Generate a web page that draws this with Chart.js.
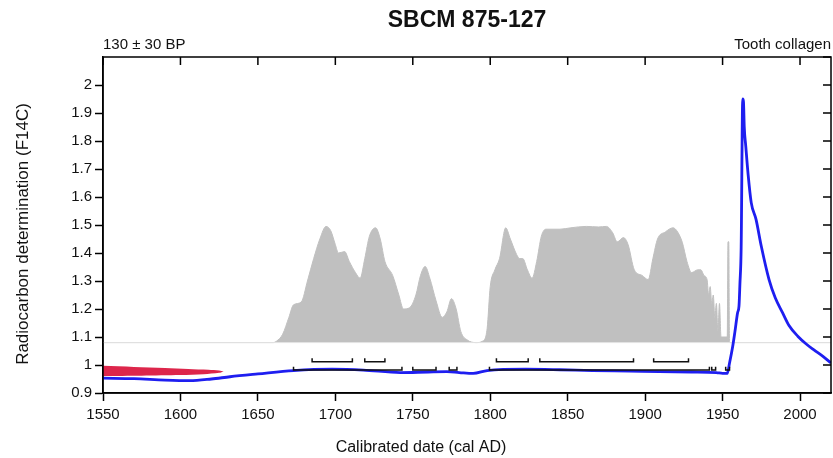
<!DOCTYPE html>
<html>
<head>
<meta charset="utf-8">
<script src="https://cdn.jsdelivr.net/npm/chart.js@4.4.0/dist/chart.umd.min.js"></script>
<style>
  html, body { margin: 0; padding: 0; background: #fff; }
  #wrap { width: 833px; height: 458px; }
</style>
</head>
<body>
<div id="wrap"><canvas id="oxcal-chart"></canvas></div>
<script>
// SBCM 875-127 calibration plot
const titleText = "SBCM 875-127";
const dateText = "130 ± 30 BP";
const materialText = "Tooth collagen";
const xTitle = "Calibrated date (cal AD)";
const yTitle = "Radiocarbon determination (F14C)";

const xTicks = [1550, 1600, 1650, 1700, 1750, 1800, 1850, 1900, 1950, 2000];
const yTicks = [0.9, 1, 1.1, 1.2, 1.3, 1.4, 1.5, 1.6, 1.7, 1.8, 1.9, 2, 2.1];

// calibration curve (F14C)
const calYears = [1550, 1570, 1590, 1606, 1620, 1632, 1650, 1673, 1698, 1718, 1742, 1760, 1772, 1780, 1789, 1798,
  1823, 1845, 1866, 1890, 1909, 1930, 1946, 1950, 1953, 1954.5, 1956.5, 1958, 1959.7, 1960.6, 1961.2, 1962, 1963,
  1963.5, 1964, 1965, 1966.5, 1968.5, 1971.6, 1975, 1980, 1984, 1988.7, 1993, 1998.7, 2004, 2009, 2015, 2020];
const calF14C = [0.953, 0.951, 0.946, 0.944, 0.950, 0.958, 0.968, 0.980, 0.985, 0.982, 0.973, 0.975, 0.976, 0.973, 0.970, 0.980,
  0.985, 0.983, 0.980, 0.978, 0.976, 0.975, 0.973, 0.970, 0.970, 1.007, 1.065, 1.12, 1.187, 1.21, 1.29, 1.42, 1.95,
  1.94, 1.85, 1.78, 1.68, 1.58, 1.52, 1.424, 1.305, 1.24, 1.187, 1.14, 1.102, 1.075, 1.054, 1.03, 1.007];

// calibrated probability (drawn above the 1.08 baseline)
const probYears = [1550, 1660, 1662, 1666, 1670, 1673, 1678, 1682, 1686, 1690, 1694, 1697, 1700, 1702, 1706, 1709, 1713,
  1716, 1719, 1722, 1726, 1729, 1732, 1737, 1741, 1744, 1748, 1752, 1755, 1758, 1761, 1765, 1769, 1772, 1775, 1778,
  1781, 1785, 1791, 1795, 1798, 1800, 1803, 1806, 1810, 1813, 1817, 1819, 1821, 1824, 1827, 1830, 1833, 1836, 1845,
  1852, 1862, 1870, 1875, 1879, 1882, 1886, 1889, 1893, 1898, 1902, 1905, 1908, 1913, 1918, 1921, 1924, 1927, 1930,
  1934, 1936, 1938, 1940, 1941, 1942, 1943, 1944, 1945, 1946, 1947, 1948, 1949, 1953, 1953.5, 1954, 1954.5, 2020];
const probF14C = [1.08, 1.08, 1.085, 1.11, 1.17, 1.215, 1.225, 1.30, 1.38, 1.45, 1.495, 1.48, 1.43, 1.40, 1.405, 1.37, 1.33,
  1.31, 1.38, 1.46, 1.49, 1.45, 1.37, 1.32, 1.25, 1.20, 1.205, 1.25, 1.32, 1.352, 1.31, 1.23, 1.17, 1.19, 1.237, 1.20,
  1.12, 1.09, 1.08, 1.085, 1.13, 1.28, 1.34, 1.38, 1.49, 1.45, 1.395, 1.38, 1.38, 1.34, 1.31, 1.37, 1.46, 1.485, 1.485,
  1.49, 1.495, 1.493, 1.495, 1.473, 1.44, 1.455, 1.43, 1.34, 1.32, 1.305, 1.38, 1.45, 1.475, 1.49, 1.475, 1.438, 1.37, 1.33,
  1.34, 1.34, 1.32, 1.305, 1.25, 1.28, 1.22, 1.25, 1.17, 1.22, 1.12, 1.22, 1.10, 1.10, 1.44, 1.44, 1.08, 1.08];

// measured F14C distribution (red, on the y axis)
const redUpperYears = [1550, 1570, 1590, 1605, 1618, 1625, 1628];
const redUpperF14C = [0.997, 0.993, 0.989, 0.986, 0.983, 0.980, 0.977];
const redLowerYears = [1550, 1575, 1600, 1615, 1625, 1628];
const redLowerF14C = [0.961, 0.962, 0.964, 0.967, 0.972, 0.977];

// ranges (cal AD)
const range68 = [[1685, 1711], [1719, 1732], [1804, 1824.5], [1832, 1892.5], [1905.5, 1928]];
const range95 = [[1673, 1743], [1750, 1765], [1773.5, 1778.5], [1799.5, 1941.5], [1943, 1945.5], [1952, 1954.5]];

const FONT = '"Liberation Sans", Arial, sans-serif';

function zip(xs, ys) {
  return xs.map((x, i) => ({ x: x, y: ys[i] }));
}

function brackets(ranges, level, cap) {
  const pts = [];
  ranges.forEach(r => {
    pts.push({ x: r[0], y: level + cap }, { x: r[0], y: level }, { x: r[1], y: level }, { x: r[1], y: level + cap });
    pts.push({ x: r[1], y: null });
  });
  return pts;
}

const frame = {
  id: "frame",
  afterDraw(chart) {
    const { ctx, chartArea: a, scales: { x, y } } = chart;
    ctx.save();
    ctx.strokeStyle = "#000";
    ctx.lineWidth = 1.5;
    ctx.strokeRect(a.left, a.top, a.right - a.left, a.bottom - a.top);
    ctx.beginPath();
    xTicks.forEach(v => {
      const px = x.getPixelForValue(v);
      ctx.moveTo(px, a.top);
      ctx.lineTo(px, a.top + 8);
    });
    yTicks.forEach(v => {
      const py = y.getPixelForValue(v);
      ctx.moveTo(a.right, py);
      ctx.lineTo(a.right - 8, py);
    });
    ctx.stroke();

    ctx.fillStyle = "#111";
    ctx.textBaseline = "alphabetic";
    ctx.font = "bold 23px " + FONT;
    ctx.textAlign = "center";
    ctx.fillText(titleText, (a.left + a.right) / 2, 27);
    ctx.font = "15px " + FONT;
    ctx.textAlign = "left";
    ctx.fillText(dateText, a.left, 49);
    ctx.textAlign = "right";
    ctx.fillText(materialText, a.right, 49);
    ctx.font = "16px " + FONT;
    ctx.textAlign = "center";
    ctx.fillText(xTitle, 421, 452);
    ctx.font = "17px " + FONT;
    ctx.translate(28, 234);
    ctx.rotate(-Math.PI / 2);
    ctx.fillText(yTitle, 0, 0);
    ctx.restore();
  }
};

const axisCommon = {
  type: "linear",
  border: { color: "#000", width: 1.5 },
  grid: { drawOnChartArea: false, tickLength: 8, tickColor: "#000", tickWidth: 1.5 }
};

new Chart(document.getElementById("oxcal-chart").getContext("2d"), {
  type: "scatter",
  data: {
    datasets: [
      {
        data: brackets(range68, 1.012, 0.012),
        showLine: true, spanGaps: false, borderColor: "#111", borderWidth: 1.5, pointRadius: 0, order: 0
      },
      {
        data: brackets(range95, 0.982, 0.012),
        showLine: true, spanGaps: false, borderColor: "#111", borderWidth: 1.5, pointRadius: 0, order: 0
      },
      {
        data: zip(calYears, calF14C),
        showLine: true, borderColor: "rgb(30,30,240)", borderWidth: 2.8, pointRadius: 0,
        cubicInterpolationMode: "monotone", order: 1
      },
      {
        data: zip(redUpperYears, redUpperF14C),
        showLine: true, borderColor: "rgba(0,0,0,0)", borderWidth: 0, pointRadius: 0, tension: 0.3, order: 2
      },
      {
        data: zip(redLowerYears, redLowerF14C),
        showLine: true, borderColor: "rgba(0,0,0,0)", borderWidth: 0, pointRadius: 0, tension: 0.3,
        fill: "-1", backgroundColor: "rgba(218,20,60,0.92)", order: 2
      },
      {
        data: zip([1550, 2020], [1.08, 1.08]),
        showLine: true, borderColor: "#e4e4e4", borderWidth: 1, pointRadius: 0, order: 3
      },
      {
        data: zip(probYears, probF14C),
        showLine: true, borderColor: "rgb(192,192,192)", borderWidth: 1, pointRadius: 0,
        cubicInterpolationMode: "monotone", fill: { value: 1.08 }, backgroundColor: "rgb(192,192,192)", order: 4
      }
    ]
  },
  options: {
    responsive: true,
    maintainAspectRatio: false,
    animation: false,
    layout: { padding: { top: 57, right: 2, left: 0, bottom: 0 } },
    plugins: { legend: { display: false }, tooltip: { enabled: false } },
    scales: {
      x: Object.assign({}, axisCommon, {
        min: 1550, max: 2020,
        afterBuildTicks: s => { s.ticks = xTicks.map(v => ({ value: v })); },
        afterFit: s => { s.height = 65; },
        ticks: { color: "#111", font: { family: FONT, size: 15 }, padding: 5, maxRotation: 0, autoSkip: false,
          callback: v => String(v) }
      }),
      y: Object.assign({}, axisCommon, {
        min: 0.9, max: 2.1,
        afterBuildTicks: s => { s.ticks = yTicks.map(v => ({ value: v })); },
        afterFit: s => { s.width = 103; },
        ticks: { color: "#111", font: { family: FONT, size: 15 }, padding: 3, autoSkip: false,
          callback: v => (v > 2.05 ? null : String(Math.round(v * 10) / 10)) }
      })
    }
  },
  plugins: [frame]
});
</script>
</body>
</html>
